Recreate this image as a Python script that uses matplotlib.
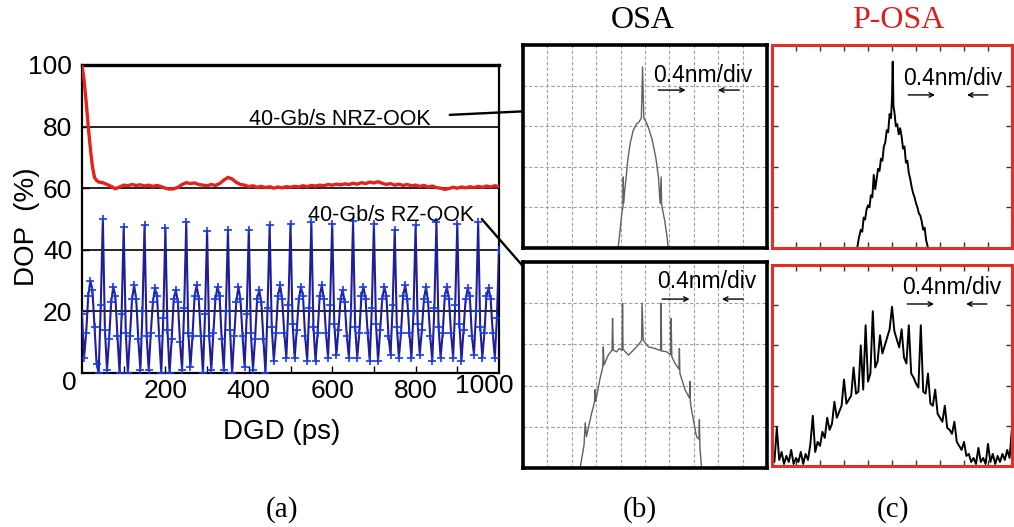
import matplotlib.pyplot as plt
import numpy as np

plt.rcParams['font.family'] = ['Liberation Sans', 'DejaVu Sans']

# ---- panel (a): DOP vs DGD ----
red_dgd = [0, 5, 10, 15, 20, 25, 30, 35, 40] + list(range(50, 1001, 10))
red_dop = [100, 95, 88, 80, 73, 67, 63.5, 62.5, 62.0,
           61.8, 61.2, 60.6, 59.8, 60.4, 61.0, 60.8, 61.2, 60.9, 61.1,
           60.7, 61.0, 60.6, 60.9, 60.5, 60.0, 59.7, 59.8, 60.3, 61.2,
           61.8, 61.5, 61.7, 61.2, 61.0, 60.8, 61.2, 60.9, 61.5, 62.6,
           63.5, 63.0, 61.9, 61.2, 61.0, 60.5, 60.8, 60.3, 60.6, 60.2,
           60.5, 60.0, 60.4, 60.1, 60.5, 60.3, 60.6, 60.4, 60.8, 60.5,
           60.9, 60.7, 61.0, 60.8, 61.2, 61.0, 61.3, 61.1, 61.4, 61.2,
           61.6, 61.3, 61.8, 61.5, 62.0, 61.7, 62.1, 61.6, 61.2, 61.5,
           61.0, 61.3, 60.9, 61.2, 60.8, 61.0, 60.6, 60.9, 60.4, 60.7,
           60.2, 60.0, 59.6, 59.9, 60.3, 60.0, 60.4, 60.1, 60.5, 60.2,
           60.6, 60.3, 60.7, 60.4, 60.8, 60.5]

blue_dgd = list(range(0, 1001, 5))
blue_dop = [19, 5, 13, 25, 30, 27, 15, 3, 0, 22,
            50, 14, 1, 11, 23, 28, 25, 12, 0, 19,
            47.5, 13, 0, 12, 24, 28.5, 24, 11, 1, 20,
            48, 12, 1, 13, 23, 27.5, 25, 12, 0, 18,
            47, 14, 0, 11, 24, 27, 23, 10, 1, 21,
            49, 13, 2, 12, 25, 28.5, 24, 12, 0, 19,
            46, 12, 1, 13, 24, 28, 25, 11, 1, 20,
            46.5, 14, 0, 12, 23, 28, 24, 12, 2, 19,
            46.5, 13, 1, 11, 24, 27, 23, 11, 0, 21,
            48, 15, 4, 13, 25, 28.5, 24, 13, 5, 22,
            48.5, 16, 5, 14, 24, 28, 25, 12, 4, 21,
            49, 15, 4, 13, 25, 28.5, 24, 13, 5, 22,
            48.5, 16, 6, 14, 24, 27, 23, 12, 5, 20,
            49.5, 15, 5, 13, 25, 28, 24, 13, 4, 21,
            48.5, 16, 4, 14, 24, 28, 25, 12, 6, 22,
            46.5, 15, 5, 13, 25, 28.5, 24, 13, 5, 20,
            48, 16, 6, 14, 24, 28, 23, 12, 4, 21,
            49, 15, 5, 13, 25, 28, 24, 13, 5, 22,
            48.5, 16, 4, 14, 24, 27.5, 25, 12, 6, 20,
            49, 15, 5, 13, 25, 27.5, 24, 13, 5, 18,
            40]

x_ticks = [200, 400, 600, 800]
y_ticks = [20, 40, 60, 80, 100]

# ---- panels (b), (c): spectra, in grid divisions (10 x 5) ----
osa_nrz_x = [3.90, 3.98, 4.05, 4.10, 4.11, 4.12, 4.14, 4.22, 4.30, 4.40, 4.52, 4.65,
             4.75, 4.85, 4.90, 4.95, 5.05, 5.15, 5.30, 5.45, 5.55, 5.62, 5.66, 5.68,
             5.70, 5.80, 5.90, 5.95]
osa_nrz_y = [0, 0.45, 0.85, 1.05, 1.75, 1.10, 1.25, 1.70, 2.20, 2.60, 2.90, 3.05,
             3.10, 3.20, 4.46, 3.20, 3.10, 2.95, 2.65, 2.20, 1.75, 1.10, 1.75, 1.10,
             1.00, 0.70, 0.30, 0]

osa_rz_x = [2.34, 2.50, 2.55, 2.60, 2.80, 2.93, 2.95, 2.98, 3.15, 3.27, 3.29, 3.32,
            3.50, 3.65, 3.67, 3.70, 3.84, 3.95, 4.06, 4.08, 4.10, 4.32, 4.59, 4.75,
            4.86, 4.88, 4.93, 5.14, 5.41, 5.64, 5.66, 5.68, 5.89, 6.05, 6.07, 6.10,
            6.23, 6.39, 6.41, 6.43, 6.64, 6.82, 6.84, 6.86, 6.91, 7.11, 7.21, 7.23,
            7.25, 7.32]
osa_rz_y = [0, 0.55, 1.10, 0.76, 1.30, 1.60, 1.90, 1.62, 2.15, 2.45, 2.94, 2.50,
            2.75, 2.86, 3.63, 2.86, 2.82, 2.90, 2.86, 4.00, 2.88, 2.74, 2.90, 3.00,
            3.10, 4.00, 3.10, 2.94, 2.90, 2.85, 4.00, 2.84, 2.82, 2.75, 3.63, 2.70,
            2.54, 2.40, 2.90, 2.30, 1.90, 1.70, 2.10, 1.60, 1.41, 0.76, 0.70, 1.17,
            0.50, 0]

posa_nrz_x = [3.55, 3.62, 3.70, 3.76, 3.82, 3.88, 3.94, 4.00, 4.06, 4.12, 4.18, 4.24,
              4.30, 4.36, 4.42, 4.48, 4.54, 4.60, 4.66, 4.72, 4.78, 4.84, 4.90, 4.96,
              5.00, 5.03, 5.06, 5.10, 5.16, 5.22, 5.28, 5.34, 5.40, 5.46, 5.52, 5.58,
              5.64, 5.70, 5.76, 5.82, 5.88, 5.94, 6.00, 6.06, 6.12, 6.18, 6.24, 6.30,
              6.36, 6.42, 6.50]
posa_nrz_y = [0, 0.25, 0.45, 0.40, 0.75, 0.70, 0.95, 1.05, 1.00, 1.30, 1.25, 1.80,
              1.45, 1.70, 1.95, 1.90, 2.20, 2.15, 2.50, 2.60, 2.90, 2.85, 3.30, 3.20,
              3.70, 4.59, 3.50, 3.35, 3.00, 3.05, 2.80, 2.95, 2.75, 2.45, 2.50, 2.10,
              2.15, 1.85, 1.70, 1.50, 1.35, 1.25, 1.10, 1.00, 0.85, 0.80, 0.65, 0.45,
              0.50, 0.20, 0]

posa_rz_x = [i / 10 for i in range(101)]
posa_rz_y = [0.30, 0.10, 0.95, 0.15, 0.35, 0.05, 0.25, 0.10, 0.40, 0.05,
             0.20, 0.10, 0.35, 0.05, 0.30, 0.15, 0.55, 1.25, 0.35, 0.60,
             0.50, 0.85, 0.70, 1.20, 0.90, 1.05, 1.60, 1.20, 1.35, 1.50,
             2.15, 1.55, 1.65, 1.75, 2.45, 1.80, 1.85, 3.00, 1.90, 3.50,
             2.10, 2.30, 3.85, 2.45, 2.60, 3.25, 2.80, 3.00, 3.20, 3.40,
             3.96, 3.35, 3.15, 2.95, 3.40, 2.70, 2.55, 3.50, 2.30, 2.20,
             2.05, 1.95, 3.50, 1.85, 1.80, 2.30, 1.55, 1.50, 1.90, 1.30,
             1.20, 1.10, 1.50, 0.95, 0.90, 0.80, 1.10, 0.60, 0.50, 0.40,
             0.60, 0.25, 0.30, 0.10, 0.20, 0.05, 0.45, 0.10, 0.20, 0.05,
             0.55, 0.10, 0.30, 0.05, 0.25, 0.10, 0.30, 0.15, 0.40, 0.20,
             0.95]

W, H = 1014, 527


def px(x, y):
    # pixel position -> figure fraction
    return x / W, 1 - y / H


def box(left, top, right, bottom):
    return [left / W, 1 - bottom / H, (right - left) / W, (bottom - top) / H]


fig = plt.figure(figsize=(W / 100, H / 100), dpi=100)

# ---- (a) ----
ax = fig.add_axes(box(82, 65, 499, 373))
ax.plot(blue_dgd, blue_dop, color='#1e1e96', lw=1.5, marker='+', ms=6,
        mec='#1a3ae6', mew=1.2, zorder=3)
ax.plot(red_dgd, red_dop, color='#e4231c', lw=2.4, zorder=4)
for yv in [20, 40, 60, 80]:
    ax.axhline(yv, color='black', lw=1.2, zorder=2)
ax.set_xlim(0, 1000)
ax.set_ylim(0, 100)
ax.set_xticks(x_ticks)
ax.set_xticklabels([str(v) for v in x_ticks])
ax.set_xticks(range(100, 1000, 100), minor=True)
ax.set_yticks(y_ticks)
ax.set_yticklabels([str(v) for v in y_ticks])
ax.tick_params(axis='both', direction='in', labelsize=19, length=5, width=1)
ax.tick_params(axis='x', which='minor', direction='in', length=5, width=1)
ax.tick_params(axis='x', pad=4)
ax.tick_params(axis='y', pad=7)
for s in ax.spines.values():
    s.set_linewidth(1.6)
ax.spines['top'].set_linewidth(2.4)

fig.text(*px(69, 383), '0', fontsize=19, ha='center', va='center')
fig.text(*px(484, 386), '1000', fontsize=19, ha='center', va='center')
fig.text(*px(282, 432), 'DGD (ps)', fontsize=20, ha='center', va='center')
fig.text(*px(27, 227), 'DOP  (%)', fontsize=20, ha='center', va='center', rotation=90)

ax.text(619, 80.4, '40-Gb/s NRZ-OOK', fontsize=15.5, ha='center', va='baseline')
ax.text(741, 49.5, '40-Gb/s RZ-OOK', fontsize=15.5, ha='center', va='baseline')

arrow = dict(arrowstyle='->', color='black', lw=1.7, mutation_scale=20)
ax.annotate('', xy=px(572, 109), xytext=px(447, 115), xycoords='figure fraction',
            textcoords='figure fraction', arrowprops=arrow, annotation_clip=False)
ax.annotate('', xy=px(555, 303), xytext=px(480, 217), xycoords='figure fraction',
            textcoords='figure fraction', arrowprops=arrow, annotation_clip=False)

# ---- (b) and (c) spectra ----
panels = [
    (box(523, 45, 767, 248), osa_nrz_x, osa_nrz_y, 'osa', (0.533, 0.852), 0.778),
    (box(523, 262, 767, 468), osa_rz_x, osa_rz_y, 'osa', (0.549, 0.903), 0.820),
    (box(772, 45, 1012, 248), posa_nrz_x, posa_nrz_y, 'posa', (0.546, 0.837), 0.754),
    (box(772, 265, 1012, 466), posa_rz_x, posa_rz_y, 'posa', (0.542, 0.886), 0.806),
]
for rect, sx, sy, kind, tpos, ay in panels:
    a = fig.add_axes(rect)
    a.set_xlim(0, 10)
    a.set_ylim(0, 5)
    a.set_xticks(range(11))
    a.set_yticks(range(6))
    a.set_xticklabels([])
    a.set_yticklabels([])
    if kind == 'osa':
        a.plot(sx, sy, color='#606060', lw=1.0)
        a.grid(True, color='#a0a0a0', lw=0.8, ls=(0, (3, 2)))
        a.tick_params(length=0)
        for s in a.spines.values():
            s.set_linewidth(2.6)
            s.set_color('black')
    else:
        a.plot(sx, sy, color='black', lw=1.4)
        a.tick_params(direction='in', length=4, width=1, top=True, right=True,
                      color='#333333')
        for s in a.spines.values():
            s.set_linewidth(2.2)
            s.set_color('#e0302a')
    a.text(tpos[0], tpos[1], '0.4nm/div', transform=a.transAxes, fontsize=16.5,
           ha='left', va='center')
    small = dict(arrowstyle='->', color='black', lw=1.0, mutation_scale=8)
    x0 = tpos[0] + 0.01
    a.annotate('', xy=(x0 + 0.135, ay), xytext=(x0, ay), xycoords='axes fraction',
               arrowprops=small)
    a.annotate('', xy=(x0 + 0.245, ay), xytext=(x0 + 0.355, ay),
               xycoords='axes fraction', arrowprops=small)

serif = ['Liberation Serif', 'DejaVu Serif']
fig.text(*px(643, 20), 'OSA', fontsize=23, family=serif, ha='center', va='center')
fig.text(*px(898, 20), 'P-OSA', fontsize=23, family=serif, color='#d8201c',
         ha='center', va='center')
fig.text(*px(282, 510), '(a)', fontsize=21, family=serif, ha='center', va='center')
fig.text(*px(640, 510), '(b)', fontsize=21, family=serif, ha='center', va='center')
fig.text(*px(893, 510), '(c)', fontsize=21, family=serif, ha='center', va='center')

fig.savefig('out.png', dpi=100)
